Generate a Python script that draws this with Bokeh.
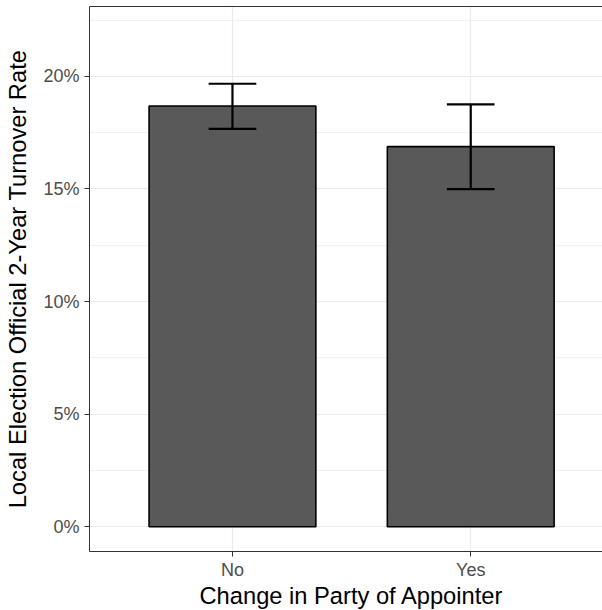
from bokeh.plotting import figure
from bokeh.models import (Range1d, FixedTicker, PrintfTickFormatter, LinearAxis, Title, Grid)
from bokeh.embed import file_html
from bokeh.resources import INLINE

# ---- data ----
categories = ["No", "Yes"]
turnover = [18.68, 16.88]       # percent
err_low = [17.67, 14.99]
err_high = [19.67, 18.75]
y_ticks = [0, 5, 10, 15, 20]
y_minor = [2.5, 7.5, 12.5, 17.5, 22.5]

positions = [i + 1 for i in range(len(categories))]
bar_width = 0.7
cap_width = 0.2

FONT = "Liberation Sans"

p = figure(width=602, height=610, output_backend="svg", toolbar_location=None,
           x_range=Range1d(0.4, 2.553), y_range=Range1d(-1.1, 23.1),
           min_border_left=89, min_border_right=0, min_border_top=6,
           min_border_bottom=0, x_axis_type=None, y_axis_type=None)
p.outline_line_color = None
p.background_fill_color = "white"
p.border_fill_color = "white"

# grids
p.add_layout(Grid(dimension=0, ticker=FixedTicker(ticks=positions),
                  grid_line_color="#EBEBEB", grid_line_width=1.2))
p.add_layout(Grid(dimension=1, ticker=FixedTicker(ticks=y_ticks, minor_ticks=y_minor),
                  grid_line_color="#EBEBEB", grid_line_width=1.2,
                  minor_grid_line_color="#EBEBEB", minor_grid_line_width=0.7))

# axes
xaxis = LinearAxis(ticker=FixedTicker(ticks=positions),
                   major_label_overrides={pos: c for pos, c in zip(positions, categories)})
yaxis = LinearAxis(ticker=FixedTicker(ticks=y_ticks, minor_ticks=y_minor),
                   formatter=PrintfTickFormatter(format="%d%%"),
                   axis_label="Local Election Official 2-Year Turnover Rate")
topaxis = LinearAxis(ticker=FixedTicker(ticks=[]), major_tick_out=0, major_tick_in=0,
                     minor_tick_out=0, minor_tick_in=0, major_label_standoff=0,
                     axis_line_color="#333333", axis_line_width=1)
p.add_layout(xaxis, "below")
p.add_layout(yaxis, "left")
p.add_layout(topaxis, "above")

for ax in (xaxis, yaxis):
    ax.axis_line_color = "#333333"
    ax.axis_line_width = 1
    ax.major_tick_line_color = "#333333"
    ax.major_tick_line_width = 1
    ax.major_tick_out = 5
    ax.major_tick_in = 0
    ax.minor_tick_line_color = None
    ax.major_label_text_font = FONT
    ax.major_label_text_font_size = "18px"
    ax.major_label_text_color = "#4D4D4D"
    ax.axis_label_text_font = FONT
    ax.axis_label_text_font_size = "23.7px"
    ax.axis_label_text_font_style = "normal"
    ax.axis_label_text_color = "black"
xaxis.major_label_standoff = 3
yaxis.major_label_standoff = 5
yaxis.axis_label_standoff = 9

# bars
p.vbar(x=positions, top=turnover, bottom=0, width=bar_width,
       fill_color="#595959", line_color="black", line_width=1.6)

# error bars
p.segment(x0=positions, y0=err_low, x1=positions, y1=err_high,
          line_color="black", line_width=2.2)
p.segment(x0=[x - cap_width / 2 for x in positions], y0=err_high,
          x1=[x + cap_width / 2 for x in positions], y1=err_high,
          line_color="black", line_width=2.2)
p.segment(x0=[x - cap_width / 2 for x in positions], y0=err_low,
          x1=[x + cap_width / 2 for x in positions], y1=err_low,
          line_color="black", line_width=2.2)

# x-axis title (as a below-title, positioned under the centre of the full panel)
xtitle = Title(text="Change in Party of Appointer", align="left", offset=110,
               text_font=FONT, text_font_size="23.7px", text_font_style="normal",
               text_color="black", standoff=0, vertical_align="top")
p.add_layout(xtitle, "below")

open("out.html", "w").write(file_html(p, INLINE))
